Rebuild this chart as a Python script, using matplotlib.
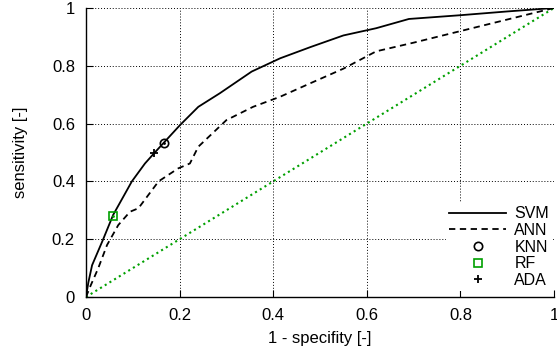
import matplotlib
matplotlib.use('Agg')
import matplotlib.pyplot as plt

plt.rcParams['font.family'] = ['Liberation Sans', 'DejaVu Sans']

# ROC curves
svm_fpr = [0.0, 0.005, 0.013, 0.036, 0.058, 0.098, 0.126, 0.147, 0.201, 0.24, 0.286,
           0.354, 0.415, 0.48, 0.55, 0.62, 0.69, 0.80, 0.90, 1.0]
svm_tpr = [0.0, 0.05, 0.11, 0.197, 0.284, 0.40, 0.462, 0.50, 0.595, 0.658, 0.705,
           0.78, 0.826, 0.865, 0.905, 0.93, 0.962, 0.975, 0.988, 1.0]

ann_fpr = [0.0, 0.01, 0.026, 0.045, 0.069, 0.094, 0.112, 0.155, 0.197, 0.222, 0.24,
           0.30, 0.357, 0.415, 0.48, 0.55, 0.62, 0.70, 0.80, 0.90, 1.0]
ann_tpr = [0.0, 0.04, 0.099, 0.18, 0.249, 0.295, 0.307, 0.40, 0.445, 0.462, 0.52,
           0.612, 0.658, 0.693, 0.74, 0.79, 0.85, 0.88, 0.92, 0.96, 1.0]

knn = (0.167, 0.533)
rf = (0.058, 0.28)
ada = (0.145, 0.498)

fig = plt.figure(figsize=(5.57, 3.58), dpi=100)
ax = fig.add_axes([0.1544, 0.1704, 0.8402, 0.8073])

ax.plot([0, 1], [0, 1], ':', color='#00a000', lw=1.5)
ax.plot(svm_fpr, svm_tpr, '-', color='black', lw=1.3, label='SVM')
ax.plot(ann_fpr, ann_tpr, '--', color='black', lw=1.3, dashes=(3.5, 2.5), label='ANN')
ax.plot(*knn, 'o', mfc='none', mec='black', ms=6, mew=1.2, label='KNN', zorder=5)
ax.plot(*knn, '.', color='black', ms=2, zorder=6)
ax.plot(*rf, 's', mfc='none', mec='#00a000', ms=6, mew=1.2, label='RF', zorder=5)
ax.plot(*rf, '.', color='#00a000', ms=2, zorder=6)
ax.plot(*ada, '+', color='black', ms=6, mew=1.3, label='ADA', zorder=5)

ax.set_xlim(0, 1)
ax.set_ylim(0, 1)
ticks = [0, 0.2, 0.4, 0.6, 0.8, 1]
labels = ['0', '0.2', '0.4', '0.6', '0.8', '1']
ax.set_xticks(ticks)
ax.set_xticklabels(labels)
ax.set_yticks(ticks)
ax.set_yticklabels(labels)
ax.tick_params(direction='in', length=5, width=0.8, labelsize=12, pad=8)
ax.grid(True, linestyle=(0, (1, 2)), color='black', lw=0.7)
for s in ['top', 'right']:
    ax.spines[s].set_visible(False)
ax.spines['left'].set_linewidth(1.0)
ax.spines['bottom'].set_linewidth(1.0)

ax.set_xlabel('1 - specifity [-]', fontsize=12, labelpad=6)
ax.set_ylabel('sensitivity [-]', fontsize=12, labelpad=17)

leg = ax.legend(loc='lower right', bbox_to_anchor=(1.0, 0.015), frameon=True,
                fontsize=11.5, handlelength=3.6, borderaxespad=0.1,
                labelspacing=0.1, handletextpad=0.5, fancybox=False, borderpad=0.2)
leg.get_frame().set_edgecolor('none')
leg.get_frame().set_facecolor('white')
leg.get_frame().set_alpha(1)

plt.savefig('out.png', dpi=100)
